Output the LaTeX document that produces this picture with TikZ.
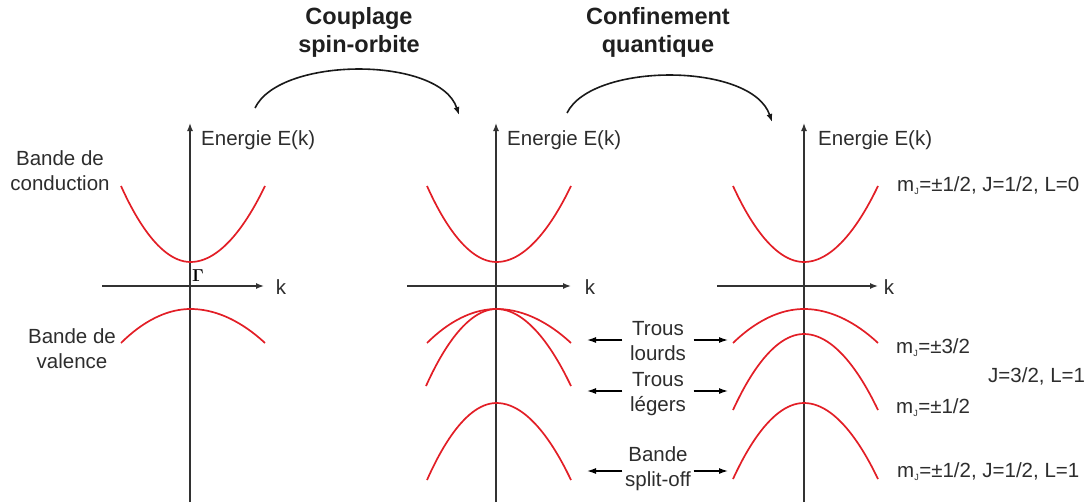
\documentclass[tikz,border=0pt]{standalone}
\usepackage[no-math]{fontspec}
\setmainfont{Liberation Sans}
\usetikzlibrary{arrows.meta}
\definecolor{bandred}{RGB}{226,30,38}
\definecolor{axisgray}{RGB}{50,50,50}
\definecolor{txtgray}{RGB}{45,45,45}
\tikzset{
  band/.style={draw=bandred, line width=1.7pt},
  axis/.style={draw=axisgray, line width=1.4pt, -{Latex[length=8pt,width=6pt]}},
  lbl/.style={text=txtgray, inner sep=0pt, font=\fontsize{20.5}{25}\selectfont},
  ttl/.style={text=black!88, inner sep=0pt, align=center, font=\fontsize{23.5}{28}\selectfont\bfseries},
  midlbl/.style={lbl, align=center, minimum width=71pt},
  sidearrow/.style={draw=black, line width=1.3pt, -{Latex[length=9pt,width=6pt]}},
  bigarrow/.style={draw=black!90, line width=1.6pt, -{Latex[length=8pt,width=6pt]}}
}
\begin{document}
\begin{tikzpicture}[x=1pt,y=-1pt]
\useasboundingbox (0,0) rectangle (1091,503);

% ---------- titles and transition arrows
\node[ttl] (t1) at (359,32) {Couplage\\spin-orbite};
\node[ttl] (t2) at (658,32) {Confinement\\quantique};
\coordinate (a1s) at (255,108);
\coordinate (a1e) at (459,115);
\coordinate (a2s) at (567,113);
\coordinate (a2e) at (772,122);
\draw[bigarrow] (a1s) .. controls (280,56) and (440,56) .. (a1e);
\draw[bigarrow] (a2s) .. controls (592,62) and (752,62) .. (a2e);

% ---------- panel 1
\coordinate (p1b) at (190,502);
\coordinate (p1t) at (190,123);
\coordinate (p1l) at (102,286);
\coordinate (p1r) at (264,286);
\draw[axis] (p1b) -- (p1t);
\draw[axis] (p1l) -- (p1r);
\node[lbl, anchor=west] (e1) at (201,140) {Energie E(k)};
\node[lbl] (k1) at (281,287) {k};
\node[inner sep=0pt, anchor=west, font=\fontsize{18}{18}\selectfont] (g1) at (192,276) {$\mathbf{\Gamma}$};
\draw[band] (121,186) parabola bend (190.5,262) (265,186);
\draw[band] (121,343) parabola bend (190.5,309) (265,343);
\node[lbl, align=center] (cb) at (60,171) {Bande de\\conduction};
\node[lbl, align=center] (vb) at (72,349) {Bande de\\valence};

% ---------- panel 2
\coordinate (p2b) at (496,502);
\coordinate (p2t) at (496,123);
\coordinate (p2l) at (407,286);
\coordinate (p2r) at (571,286);
\draw[axis] (p2b) -- (p2t);
\draw[axis] (p2l) -- (p2r);
\node[lbl, anchor=west] (e2) at (507,140) {Energie E(k)};
\node[lbl] (k2) at (590,287) {k};
\draw[band] (427,186) parabola bend (496.5,262) (571,186);
\draw[band] (427,343) parabola bend (496.5,309) (571,343);
\draw[band] (426,386) parabola bend (496.5,309) (571,386);
\draw[band] (427,480) parabola bend (496.5,403) (571,480);

% ---------- middle labels
\node[midlbl] (hh) at (658,341) {Trous\\lourds};
\node[midlbl] (lh) at (658,394) {Trous\\légers};
\node[midlbl] (so) at (658,469) {Bande\\split-off};
\coordinate (hhL) at (587,340);
\coordinate (hhR) at (728,340);
\coordinate (lhL) at (587,391);
\coordinate (lhR) at (728,391);
\coordinate (soL) at (587,471);
\coordinate (soR) at (728,471);
\draw[sidearrow] (hh.west |- hhL) -- (hhL);
\draw[sidearrow] (hh.east |- hhR) -- (hhR);
\draw[sidearrow] (lh.west |- lhL) -- (lhL);
\draw[sidearrow] (lh.east |- lhR) -- (lhR);
\draw[sidearrow] (so.west |- soL) -- (soL);
\draw[sidearrow] (so.east |- soR) -- (soR);

% ---------- panel 3
\coordinate (p3b) at (804,502);
\coordinate (p3t) at (804,123);
\coordinate (p3l) at (717,286);
\coordinate (p3r) at (878,286);
\draw[axis] (p3b) -- (p3t);
\draw[axis] (p3l) -- (p3r);
\node[lbl, anchor=west] (e3) at (818,140) {Energie E(k)};
\node[lbl] (k3) at (889,287) {k};
\draw[band] (733,186) parabola bend (804,262) (878,186);
\draw[band] (733,343) parabola bend (804,309) (878,343);
\draw[band] (733,410) parabola bend (804,334) (878,410);
\draw[band] (733,479) parabola bend (804,403) (878,479);

% ---------- right labels
\newcommand{\mJ}{m\textsubscript{\fontsize{9}{9}\selectfont J}}
\node[lbl, anchor=west] (r1) at (897,186) {\mJ=±1/2, J=1/2, L=0};
\node[lbl, anchor=west] (r2) at (896,348) {\mJ=±3/2};
\node[lbl, anchor=west] (r3) at (988,376) {J=3/2, L=1};
\node[lbl, anchor=west] (r4) at (896,408) {\mJ=±1/2};
\node[lbl, anchor=west] (r5) at (897,472) {\mJ=±1/2, J=1/2, L=1};
\end{tikzpicture}
\end{document}
